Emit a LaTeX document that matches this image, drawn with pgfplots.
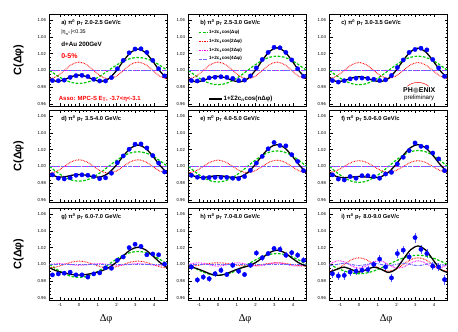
\documentclass[border=0pt]{standalone}
\usepackage{fontspec}
\setmainfont{Liberation Sans}
\newfontfamily\seriffont{Liberation Serif}
\newfontfamily\dejavu{DejaVu Sans}
\usepackage{pgfplots}
\usepackage{pgfplotstable}
\pgfplotsset{compat=1.18}

\definecolor{rgreen}{RGB}{0,200,0}
\definecolor{rblue}{RGB}{0,0,255}
\definecolor{rviolet}{RGB}{105,105,255}
\definecolor{rmag}{RGB}{255,0,255}
\definecolor{rred}{RGB}{255,0,0}

% ---------------- data points ----------------
\pgfplotstableread{
x y
-1.414 0.9880
-1.100 0.9878
-0.785 0.9885
-0.471 0.9918
-0.157 0.9938
0.157 0.9942
0.471 0.9928
0.785 0.9895
1.100 0.9875
1.414 0.9875
1.728 0.9915
2.042 1.0020
2.356 1.0120
2.670 1.0210
2.985 1.0255
3.299 1.0258
3.613 1.0215
3.927 1.0120
4.241 1.0020
4.555 0.9935
}\dA
\pgfplotstableread{
x y
-1.414 0.9880
-1.100 0.9875
-0.785 0.9890
-0.471 0.9912
-0.157 0.9920
0.157 0.9925
0.471 0.9918
0.785 0.9905
1.100 0.9880
1.414 0.9885
1.728 0.9935
2.042 1.0030
2.356 1.0130
2.670 1.0215
2.985 1.0275
3.299 1.0270
3.613 1.0215
3.927 1.0125
4.241 1.0020
4.555 0.9930
}\dB
\pgfplotstableread{
x y
-1.414 0.9880
-1.100 0.9862
-0.785 0.9878
-0.471 0.9900
-0.157 0.9908
0.157 0.9910
0.471 0.9905
0.785 0.9895
1.100 0.9880
1.414 0.9888
1.728 0.9940
2.042 1.0035
2.356 1.0125
2.670 1.0215
2.985 1.0250
3.299 1.0265
3.613 1.0245
3.927 1.0130
4.241 1.0030
4.555 0.9930
}\dC
\pgfplotstableread{
x y
-1.414 0.9900
-1.100 0.9860
-0.785 0.9852
-0.471 0.9865
-0.157 0.9895
0.157 0.9900
0.471 0.9895
0.785 0.9880
1.100 0.9855
1.414 0.9865
1.728 0.9920
2.042 1.0045
2.356 1.0125
2.670 1.0205
2.985 1.0265
3.299 1.0268
3.613 1.0220
3.927 1.0130
4.241 1.0040
4.555 0.9935
}\dD
\pgfplotstableread{
x y
-1.414 0.9895
-1.100 0.9872
-0.785 0.9865
-0.471 0.9868
-0.157 0.9870
0.157 0.9870
0.471 0.9870
0.785 0.9860
1.100 0.9855
1.414 0.9880
1.728 0.9955
2.042 1.0040
2.356 1.0120
2.670 1.0210
2.985 1.0285
3.299 1.0250
3.613 1.0245
3.927 1.0140
4.241 1.0060
4.555 0.9950
}\dE
\pgfplotstableread{
x y
-1.414 0.9900
-1.100 0.9850
-0.785 0.9840
-0.471 0.9880
-0.157 0.9860
0.157 0.9890
0.471 0.9890
0.785 0.9880
1.100 0.9860
1.414 0.9910
1.728 0.9930
2.042 1.0030
2.356 1.0110
2.670 1.0190
2.985 1.0280
3.299 1.0240
3.613 1.0230
3.927 1.0160
4.241 1.0090
4.555 0.9950
}\dF
\pgfplotstableread{
x y ey
-1.414 0.9876 0.0025
-1.100 0.9888 0.0025
-0.785 0.9896 0.0025
-0.471 0.9908 0.0025
-0.157 0.9876 0.0025
0.157 0.9876 0.0025
0.471 0.9850 0.0025
0.785 0.9888 0.0025
1.100 0.9900 0.0025
1.414 0.9960 0.0025
1.728 0.9955 0.0025
2.042 1.0050 0.0025
2.356 1.0090 0.0025
2.670 1.0200 0.0025
2.985 1.0240 0.0025
3.299 1.0215 0.0025
3.613 1.0115 0.0025
3.927 1.0125 0.0025
4.241 1.0115 0.0025
4.555 1.0005 0.0025
}\dG
\pgfplotstableread{
x y ey
-1.414 0.9970 0.0035
-1.100 0.9816 0.0035
-0.785 0.9850 0.0035
-0.471 0.9830 0.0035
-0.157 0.9890 0.0035
0.157 0.9930 0.0035
0.471 0.9880 0.0035
0.785 0.9990 0.0035
1.100 0.9920 0.0035
1.414 0.9880 0.0035
1.728 0.9990 0.0035
2.042 1.0136 0.0035
2.356 1.0080 0.0035
2.670 1.0130 0.0035
2.985 1.0190 0.0035
3.299 1.0180 0.0035
3.613 1.0110 0.0035
3.927 1.0140 0.0035
4.241 1.0110 0.0035
4.555 1.0050 0.0035
}\dH
\pgfplotstableread{
x y ey
-1.414 0.9890 0.0055
-1.100 0.9864 0.0050
-0.785 0.9870 0.0050
-0.471 0.9910 0.0045
-0.157 0.9920 0.0045
0.157 0.9932 0.0045
0.471 0.9940 0.0045
0.785 1.0000 0.0045
1.100 1.0064 0.0050
1.414 0.9970 0.0050
1.728 0.9840 0.0050
2.042 1.0130 0.0055
2.356 1.0170 0.0050
2.670 1.0090 0.0050
2.985 1.0320 0.0060
3.299 1.0180 0.0050
3.613 1.0130 0.0050
3.927 0.9980 0.0050
4.241 0.9970 0.0050
4.555 0.9820 0.0060
}\dI

% ---------------- fit components (tabulated) ----------------
\pgfplotstableread{
x g r t
-1.5708 1.0000 0.9900 0.9900
-1.1781 0.9941 0.9929 0.9870
-0.7854 0.9890 1.0000 0.9890
-0.3927 0.9857 1.0071 0.9928
0.0000 0.9845 1.0100 0.9945
0.3927 0.9857 1.0071 0.9928
0.7854 0.9890 1.0000 0.9890
1.1781 0.9941 0.9929 0.9870
1.5708 1.0000 0.9900 0.9900
1.9635 1.0059 0.9929 0.9989
2.3562 1.0110 1.0000 1.0110
2.7489 1.0143 1.0071 1.0214
3.1416 1.0155 1.0100 1.0255
3.5343 1.0143 1.0071 1.0214
3.9270 1.0110 1.0000 1.0110
4.3197 1.0059 0.9929 0.9989
4.7124 1.0000 0.9900 0.9900
}\fA
\pgfplotstableread{
x g r t
-1.5708 1.0000 0.9900 0.9900
-1.1781 0.9935 0.9929 0.9864
-0.7854 0.9880 1.0000 0.9880
-0.3927 0.9843 1.0071 0.9914
0.0000 0.9830 1.0100 0.9930
0.3927 0.9843 1.0071 0.9914
0.7854 0.9880 1.0000 0.9880
1.1781 0.9935 0.9929 0.9864
1.5708 1.0000 0.9900 0.9900
1.9635 1.0065 0.9929 0.9994
2.3562 1.0120 1.0000 1.0120
2.7489 1.0157 1.0071 1.0228
3.1416 1.0170 1.0100 1.0270
3.5343 1.0157 1.0071 1.0228
3.9270 1.0120 1.0000 1.0120
4.3197 1.0065 0.9929 0.9994
4.7124 1.0000 0.9900 0.9900
}\fB
\pgfplotstableread{
x g r t
-1.5708 1.0000 0.9905 0.9905
-1.1781 0.9935 0.9933 0.9868
-0.7854 0.9880 1.0000 0.9880
-0.3927 0.9843 1.0067 0.9910
0.0000 0.9830 1.0095 0.9925
0.3927 0.9843 1.0067 0.9910
0.7854 0.9880 1.0000 0.9880
1.1781 0.9935 0.9933 0.9868
1.5708 1.0000 0.9905 0.9905
1.9635 1.0065 0.9933 0.9998
2.3562 1.0120 1.0000 1.0120
2.7489 1.0157 1.0067 1.0224
3.1416 1.0170 1.0095 1.0265
3.5343 1.0157 1.0067 1.0224
3.9270 1.0120 1.0000 1.0120
4.3197 1.0065 0.9933 0.9998
4.7124 1.0000 0.9905 0.9905
}\fC
\pgfplotstableread{
x g r t
-1.5708 1.0000 0.9920 0.9920
-1.1781 0.9933 0.9943 0.9877
-0.7854 0.9876 1.0000 0.9876
-0.3927 0.9838 1.0057 0.9895
0.0000 0.9825 1.0080 0.9905
0.3927 0.9838 1.0057 0.9895
0.7854 0.9876 1.0000 0.9876
1.1781 0.9933 0.9943 0.9877
1.5708 1.0000 0.9920 0.9920
1.9635 1.0067 0.9943 1.0010
2.3562 1.0124 1.0000 1.0124
2.7489 1.0162 1.0057 1.0218
3.1416 1.0175 1.0080 1.0255
3.5343 1.0162 1.0057 1.0218
3.9270 1.0124 1.0000 1.0124
4.3197 1.0067 0.9943 1.0010
4.7124 1.0000 0.9920 0.9920
}\fD
\pgfplotstableread{
x g r t
-1.5708 1.0000 0.9925 0.9925
-1.1781 0.9929 0.9947 0.9876
-0.7854 0.9869 1.0000 0.9869
-0.3927 0.9829 1.0053 0.9882
0.0000 0.9815 1.0075 0.9890
0.3927 0.9829 1.0053 0.9882
0.7854 0.9869 1.0000 0.9869
1.1781 0.9929 0.9947 0.9876
1.5708 1.0000 0.9925 0.9925
1.9635 1.0071 0.9947 1.0018
2.3562 1.0131 1.0000 1.0131
2.7489 1.0171 1.0053 1.0224
3.1416 1.0185 1.0075 1.0260
3.5343 1.0171 1.0053 1.0224
3.9270 1.0131 1.0000 1.0131
4.3197 1.0071 0.9947 1.0018
4.7124 1.0000 0.9925 0.9925
}\fE
\pgfplotstableread{
x g r t
-1.5708 1.0000 0.9930 0.9930
-1.1781 0.9927 0.9951 0.9878
-0.7854 0.9866 1.0000 0.9866
-0.3927 0.9824 1.0049 0.9874
0.0000 0.9810 1.0070 0.9880
0.3927 0.9824 1.0049 0.9874
0.7854 0.9866 1.0000 0.9866
1.1781 0.9927 0.9951 0.9878
1.5708 1.0000 0.9930 0.9930
1.9635 1.0073 0.9951 1.0023
2.3562 1.0134 1.0000 1.0134
2.7489 1.0176 1.0049 1.0225
3.1416 1.0190 1.0070 1.0260
3.5343 1.0176 1.0049 1.0225
3.9270 1.0134 1.0000 1.0134
4.3197 1.0073 0.9951 1.0023
4.7124 1.0000 0.9930 0.9930
}\fF
\pgfplotstableread{
x g r m b t
-1.5708 1.0000 0.9960 1.0000 1.0000 0.9960
-1.1781 0.9941 0.9972 1.0009 1.0000 0.9922
-0.7854 0.9890 1.0000 1.0007 1.0000 0.9898
-0.3927 0.9857 1.0028 0.9996 1.0000 0.9881
0.0000 0.9845 1.0040 0.9990 1.0000 0.9875
0.3927 0.9857 1.0028 0.9996 1.0000 0.9881
0.7854 0.9890 1.0000 1.0007 1.0000 0.9898
1.1781 0.9941 0.9972 1.0009 1.0000 0.9922
1.5708 1.0000 0.9960 1.0000 1.0000 0.9960
1.9635 1.0059 0.9972 0.9991 1.0000 1.0022
2.3562 1.0110 1.0000 0.9993 1.0000 1.0103
2.7489 1.0143 1.0028 1.0004 1.0000 1.0175
3.1416 1.0155 1.0040 1.0010 1.0000 1.0205
3.5343 1.0143 1.0028 1.0004 1.0000 1.0175
3.9270 1.0110 1.0000 0.9993 1.0000 1.0103
4.3197 1.0059 0.9972 0.9991 1.0000 1.0022
4.7124 1.0000 0.9960 1.0000 1.0000 0.9960
}\fG
\pgfplotstableread{
x g r m b t
-1.5708 1.0000 0.9980 1.0000 1.0000 0.9980
-1.1781 0.9950 0.9986 1.0018 1.0000 0.9955
-0.7854 0.9908 1.0000 1.0014 1.0000 0.9922
-0.3927 0.9880 1.0014 0.9992 1.0000 0.9886
0.0000 0.9870 1.0020 0.9980 1.0000 0.9870
0.3927 0.9880 1.0014 0.9992 1.0000 0.9886
0.7854 0.9908 1.0000 1.0014 1.0000 0.9922
1.1781 0.9950 0.9986 1.0018 1.0000 0.9955
1.5708 1.0000 0.9980 1.0000 1.0000 0.9980
1.9635 1.0050 0.9986 0.9982 1.0000 1.0017
2.3562 1.0092 1.0000 0.9986 1.0000 1.0078
2.7489 1.0120 1.0014 1.0008 1.0000 1.0142
3.1416 1.0130 1.0020 1.0020 1.0000 1.0170
3.5343 1.0120 1.0014 1.0008 1.0000 1.0142
3.9270 1.0092 1.0000 0.9986 1.0000 1.0078
4.3197 1.0050 0.9986 0.9982 1.0000 1.0017
4.7124 1.0000 0.9980 1.0000 1.0000 0.9980
}\fH
\pgfplotstableread{
x g r m b t
-1.5708 1.0000 0.9920 1.0000 0.9985 0.9905
-1.1781 0.9958 0.9943 1.0042 1.0000 0.9943
-0.7854 0.9922 1.0000 1.0032 1.0015 0.9969
-0.3927 0.9898 1.0057 0.9983 1.0000 0.9938
0.0000 0.9890 1.0080 0.9955 0.9985 0.9910
0.3927 0.9898 1.0057 0.9983 1.0000 0.9938
0.7854 0.9922 1.0000 1.0032 1.0015 0.9969
1.1781 0.9958 0.9943 1.0042 1.0000 0.9943
1.5708 1.0000 0.9920 1.0000 0.9985 0.9905
1.9635 1.0042 0.9943 0.9958 1.0000 0.9944
2.3562 1.0078 1.0000 0.9968 1.0015 1.0061
2.7489 1.0102 1.0057 1.0017 1.0000 1.0175
3.1416 1.0110 1.0080 1.0045 0.9985 1.0220
3.5343 1.0102 1.0057 1.0017 1.0000 1.0175
3.9270 1.0078 1.0000 0.9968 1.0015 1.0061
4.3197 1.0042 0.9943 0.9958 1.0000 0.9944
4.7124 1.0000 0.9920 1.0000 0.9985 0.9905
}\fI

\pgfplotsset{
  panel/.style={
    scale only axis, width=118bp, height=92bp, anchor=north west,
    xmin=-1.5708, xmax=4.7124, ymin=0.9577, ymax=1.0672,
    xtick={-1,0,1,2,3,4}, ytick={0.96,0.98,1.00,1.02,1.04,1.06},
    minor x tick num=4, minor y tick num=4,
    tick align=inside, xtick pos=both, ytick pos=both,
    major tick length=3bp, minor tick length=1.6bp,
    every tick/.style={black, line width=0.45bp},
    axis line style={line width=0.7bp},
    tick label style={font=\fontsize{4.3}{5}\selectfont},
    /pgf/number format/assume math mode=true,
    yticklabel style={/pgf/number format/fixed, /pgf/number format/fixed zerofill, /pgf/number format/precision=2},
    xticklabels={},
    every axis y label/.style={at={(axis description cs:-0.262,0.5)}, rotate=90, anchor=center, font=\fontsize{11}{12}\bfseries\selectfont},
    every axis x label/.style={at={(axis description cs:0.48,-0.21)}, anchor=center, font=\fontsize{10.5}{12}\seriffont},
  },
  bottomrow/.style={xticklabels={-1,0,1,2,3,4}, xlabel={Δφ}},
  leftcol/.style={ylabel={C(Δφ)}},
  dat/.style={only marks, mark=*, mark size=2.2bp, mark options={fill=rblue, draw=rblue, line width=0.3bp}},
  daterr/.style={dat, error bars/.cd, y dir=both, y explicit, error mark=none, error bar style={rblue!65, line width=0.7bp}},
  fg/.style={rgreen, line width=1.2bp, dash pattern=on 2.6bp off 1.6bp, smooth},
  fr/.style={rred, line width=0.95bp, dash pattern=on 0.7bp off 0.9bp, smooth},
  fm/.style={rmag, line width=0.95bp, dash pattern=on 0.7bp off 0.9bp, smooth},
  fb/.style={rviolet, line width=1bp, dash pattern=on 3bp off 1bp on 0.7bp off 1bp, smooth},
  fk/.style={black, line width=1.3bp, smooth},
}
\newcommand{\ttl}[2]{#1) π\textsuperscript{0} p\textsubscript{T} #2 GeV/c}
\newcommand{\ttlfont}{\fontsize{5.8}{6.5}\bfseries\selectfont}

\begin{document}
\begin{tikzpicture}
\useasboundingbox (0,0) rectangle (458bp,332bp);

% ---------- a ----------
\begin{axis}[panel, leftcol, at={(49.5bp,318bp)}]
\addplot[dat] table[x=x,y=y]{\dA};
\addplot[fg] table[x=x,y=g]{\fA};
\addplot[fr] table[x=x,y=r]{\fA};
\addplot[fm] coordinates {(-1.5708,1.0003) (4.7124,1.0003)};
\addplot[fb] coordinates {(-1.5708,1.0000) (4.7124,1.0000)};
\addplot[fk] table[x=x,y=t]{\fA};
\node[anchor=west,font=\ttlfont] at (rel axis cs:0.07,0.905) {\ttl{a}{2.0-2.5}};
\node[anchor=west,font=\fontsize{5.4}{6}\selectfont] at (rel axis cs:0.07,0.795) {|η\textsubscript{π\textsuperscript{0}}|<0.35};
\node[anchor=west,font=\fontsize{6.3}{7}\bfseries\selectfont] at (rel axis cs:0.07,0.67) {d+Au 200GeV};
\node[anchor=west,font=\fontsize{7}{8}\bfseries\selectfont,text=rred] at (rel axis cs:0.07,0.545) {0-5\%};
\node[anchor=west,font=\fontsize{6}{7}\bfseries\selectfont,text=rred] at (rel axis cs:0.05,0.08) {Asso: MPC-S E\textsubscript{T}, -3.7<η<-3.1};
\end{axis}

% ---------- b ----------
\begin{axis}[panel, at={(188.5bp,318bp)}, legend cell align=left,
  legend style={at={(0.055,0.86)}, anchor=north west, draw=none, fill=none,
    font=\fontsize{4.6}{5}\bfseries\selectfont, row sep=2.5bp, nodes={inner sep=0.8bp}},
  legend image code/.code={\draw[#1] (0bp,0bp) -- (9bp,0bp);}]
\addplot[dat, forget plot] table[x=x,y=y]{\dB};
\addplot[fg] table[x=x,y=g]{\fB};
\addlegendentry{1+2c\textsubscript{1}cos(Δφ)}
\addplot[fr] table[x=x,y=r]{\fB};
\addlegendentry{1+2c\textsubscript{2}cos(2Δφ)}
\addplot[fm] coordinates {(-1.5708,1.0003) (4.7124,1.0003)};
\addlegendentry{1+2c\textsubscript{3}cos(3Δφ)}
\addplot[fb] coordinates {(-1.5708,1.0000) (4.7124,1.0000)};
\addlegendentry{1+2c\textsubscript{4}cos(4Δφ)}
\addplot[fk, forget plot] table[x=x,y=t]{\fB};
\node[anchor=west,font=\ttlfont] at (rel axis cs:0.07,0.905) {\ttl{b}{2.5-3.0}};
\end{axis}
\begin{axis}[panel, at={(188.5bp,318bp)}, hide axis,
  legend style={at={(0.14,0.076)}, anchor=west, draw=none, fill=none,
    font=\fontsize{6.3}{7}\bfseries\selectfont, nodes={inner sep=1bp}},
  legend image code/.code={\draw[#1] (0bp,0bp) -- (13bp,0bp);}]
\addlegendimage{black, line width=1.3bp}
\addlegendentry{1+Σ2c\textsubscript{n}cos(nΔφ)}
\end{axis}

% ---------- c ----------
\begin{axis}[panel, at={(329.5bp,318bp)}]
\addplot[dat] table[x=x,y=y]{\dC};
\addplot[fg] table[x=x,y=g]{\fC};
\addplot[fr] table[x=x,y=r]{\fC};
\addplot[fm] coordinates {(-1.5708,1.0003) (4.7124,1.0003)};
\addplot[fb] coordinates {(-1.5708,1.0000) (4.7124,1.0000)};
\addplot[fk] table[x=x,y=t]{\fC};
\node[anchor=west,font=\ttlfont] at (rel axis cs:0.07,0.905) {\ttl{c}{3.0-3.5}};
\draw[rred, line width=0.5bp] (rel axis cs:0.66,0.215) .. controls (rel axis cs:0.71,0.27) and (rel axis cs:0.79,0.27) .. (rel axis cs:0.84,0.215);
\node[font=\fontsize{7}{8}\bfseries\selectfont] at (rel axis cs:0.76,0.165) {PH{\dejavu\color{black!40}●}ENIX};
\node[font=\fontsize{6.2}{7}\selectfont] at (rel axis cs:0.76,0.085) {preliminary};
\end{axis}

% ---------- d ----------
\begin{axis}[panel, leftcol, at={(49.5bp,222bp)}]
\addplot[dat] table[x=x,y=y]{\dD};
\addplot[fg] table[x=x,y=g]{\fD};
\addplot[fr] table[x=x,y=r]{\fD};
\addplot[fm] coordinates {(-1.5708,1.0003) (4.7124,1.0003)};
\addplot[fb] coordinates {(-1.5708,1.0000) (4.7124,1.0000)};
\addplot[fk] table[x=x,y=t]{\fD};
\node[anchor=west,font=\ttlfont] at (rel axis cs:0.07,0.905) {\ttl{d}{3.5-4.0}};
\end{axis}

% ---------- e ----------
\begin{axis}[panel, at={(188.5bp,222bp)}]
\addplot[dat] table[x=x,y=y]{\dE};
\addplot[fg] table[x=x,y=g]{\fE};
\addplot[fr] table[x=x,y=r]{\fE};
\addplot[fm] coordinates {(-1.5708,1.0003) (4.7124,1.0003)};
\addplot[fb] coordinates {(-1.5708,1.0000) (4.7124,1.0000)};
\addplot[fk] table[x=x,y=t]{\fE};
\node[anchor=west,font=\ttlfont] at (rel axis cs:0.07,0.905) {\ttl{e}{4.0-5.0}};
\end{axis}

% ---------- f ----------
\begin{axis}[panel, at={(329.5bp,222bp)}]
\addplot[dat] table[x=x,y=y]{\dF};
\addplot[fg] table[x=x,y=g]{\fF};
\addplot[fr] table[x=x,y=r]{\fF};
\addplot[fm] coordinates {(-1.5708,1.0003) (4.7124,1.0003)};
\addplot[fb] coordinates {(-1.5708,1.0000) (4.7124,1.0000)};
\addplot[fk] table[x=x,y=t]{\fF};
\node[anchor=west,font=\ttlfont] at (rel axis cs:0.07,0.905) {\ttl{f}{5.0-6.0}};
\end{axis}

% ---------- g ----------
\begin{axis}[panel, leftcol, bottomrow, at={(49.5bp,124bp)}]
\addplot[daterr] table[x=x,y=y,y error=ey]{\dG};
\addplot[fg] table[x=x,y=g]{\fG};
\addplot[fr] table[x=x,y=r]{\fG};
\addplot[fm] table[x=x,y=m]{\fG};
\addplot[fb] table[x=x,y=b]{\fG};
\addplot[fk] table[x=x,y=t]{\fG};
\node[anchor=west,font=\ttlfont] at (rel axis cs:0.07,0.905) {\ttl{g}{6.0-7.0}};
\end{axis}

% ---------- h ----------
\begin{axis}[panel, bottomrow, at={(188.5bp,124bp)}]
\addplot[daterr] table[x=x,y=y,y error=ey]{\dH};
\addplot[fg] table[x=x,y=g]{\fH};
\addplot[fr] table[x=x,y=r]{\fH};
\addplot[fm] table[x=x,y=m]{\fH};
\addplot[fb] table[x=x,y=b]{\fH};
\addplot[fk] table[x=x,y=t]{\fH};
\node[anchor=west,font=\ttlfont] at (rel axis cs:0.07,0.905) {\ttl{h}{7.0-8.0}};
\end{axis}

% ---------- i ----------
\begin{axis}[panel, bottomrow, at={(329.5bp,124bp)}]
\addplot[daterr] table[x=x,y=y,y error=ey]{\dI};
\addplot[fg] table[x=x,y=g]{\fI};
\addplot[fr] table[x=x,y=r]{\fI};
\addplot[fm] table[x=x,y=m]{\fI};
\addplot[fb] table[x=x,y=b]{\fI};
\addplot[fk] table[x=x,y=t]{\fI};
\node[anchor=west,font=\ttlfont] at (rel axis cs:0.07,0.905) {\ttl{i}{8.0-9.0}};
\end{axis}
\end{tikzpicture}
\end{document}
